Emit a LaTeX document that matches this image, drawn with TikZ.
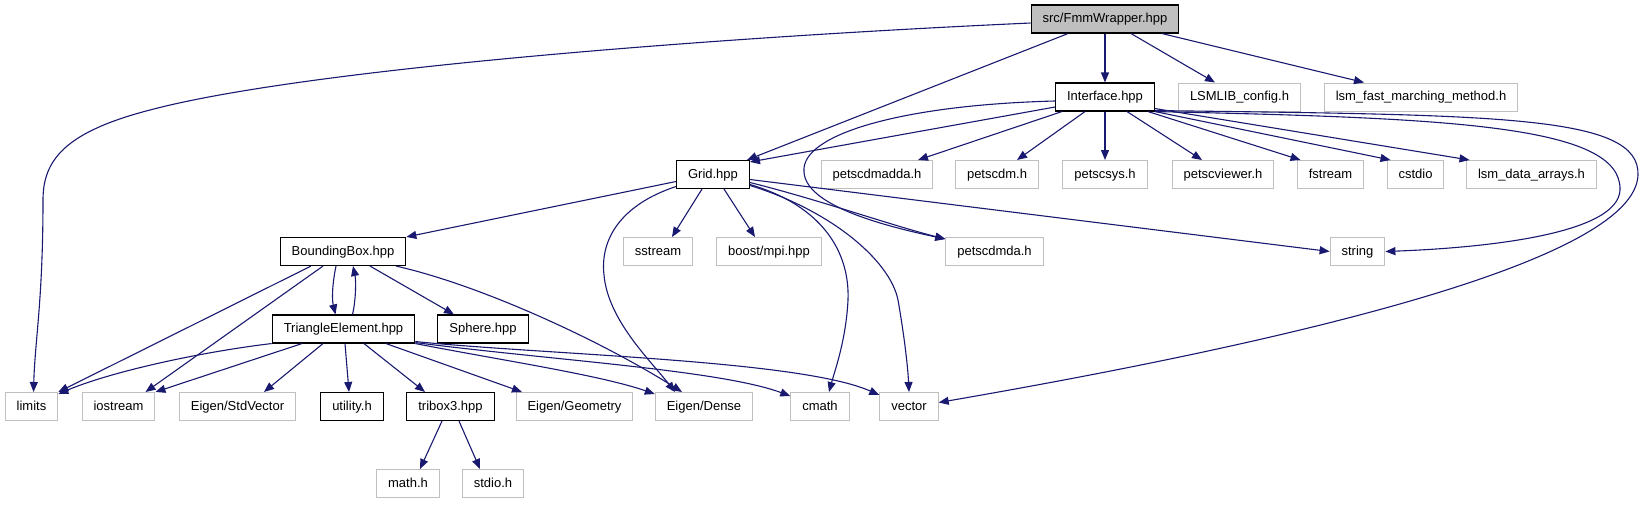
\documentclass[tikz,border=0pt]{standalone}
\usepackage{fontspec}
\setmainfont{Liberation Sans}
\usepackage{tikz}
\definecolor{dotblue}{RGB}{25,25,112}
\definecolor{grey75}{RGB}{191,191,191}
\usetikzlibrary{arrows.meta}

\begin{document}
\begin{tikzpicture}[x=1pt, y=-1pt, >={Triangle[length=10pt, width=8pt]},
    hdr/.style={draw=black, line width=1.1pt, minimum height=28pt, inner xsep=11.5pt, inner ysep=0pt,
        text height=9.5pt, text depth=2.5pt, font=\fontsize{13}{15}\selectfont},
    syshdr/.style={hdr, draw=grey75, line width=1pt},
    roothdr/.style={hdr, fill=grey75},
    dep/.style={->, dotblue, line width=1.1pt}]
    \useasboundingbox (0,0) rectangle (1644,504);
    % Hàng 1 và 2
    \node[roothdr] (fmm) at (1105,19) {src/FmmWrapper.hpp};
    \node[hdr] (iface) at (1105,97) {Interface.hpp};
    \node[syshdr] (lsmcfg) at (1239.5,97) {LSMLIB\_config.h};
    \node[syshdr] (lsmfmm) at (1421,97) {lsm\_fast\_marching\_method.h};
    % Hàng 3
    \node[hdr] (grid) at (713,174.5) {Grid.hpp};
    \node[syshdr] (pdmadda) at (877,174.5) {petscdmadda.h};
    \node[syshdr] (pdm) at (997,174.5) {petscdm.h};
    \node[syshdr] (psys) at (1105,174.5) {petscsys.h};
    \node[syshdr] (pviewer) at (1223,174.5) {petscviewer.h};
    \node[syshdr] (fstream) at (1330.5,174.5) {fstream};
    \node[syshdr] (cstdio) at (1415.5,174.5) {cstdio};
    \node[syshdr] (lsmdata) at (1531.5,174.5) {lsm\_data\_arrays.h};
    % Hàng 4
    \node[hdr] (bbox) at (343,251.5) {BoundingBox.hpp};
    \node[syshdr] (sstream) at (658,251.5) {sstream};
    \node[syshdr] (mpi) at (769,251.5) {boost/mpi.hpp};
    \node[syshdr] (pdmda) at (994.5,251.5) {petscdmda.h};
    \node[syshdr] (string) at (1357.5,251.5) {string};
    % Hàng 5
    \node[hdr] (tri) at (343.5,329) {TriangleElement.hpp};
    \node[hdr] (sphere) at (483,329) {Sphere.hpp};
    % Hàng 6
    \node[syshdr] (limits) at (31.5,406.5) {limits};
    \node[syshdr] (iostream) at (118.5,406.5) {iostream};
    \node[syshdr] (stdvec) at (237.5,406.5) {Eigen/StdVector};
    \node[hdr] (utility) at (352,406.5) {utility.h};
    \node[hdr] (tribox) at (450.5,406.5) {tribox3.hpp};
    \node[syshdr] (geometry) at (574.5,406.5) {Eigen/Geometry};
    \node[syshdr] (dense) at (704,406.5) {Eigen/Dense};
    \node[syshdr] (cmath) at (820,406.5) {cmath};
    \node[syshdr] (vector) at (909,406.5) {vector};
    % Hàng 7
    \node[syshdr] (mathh) at (408,483.5) {math.h};
    \node[syshdr] (stdioh) at (493,483.5) {stdio.h};

    % Cạnh từ FmmWrapper
    \draw[dep] ([yshift=-4pt]fmm.west) .. controls (700,38) and (300,70) .. (150,110)
        .. controls (65,132) and (43,160) .. (43,200) .. controls (43,300) and (35,340) .. ([xshift=2pt]limits.north);
    \draw[dep] ([xshift=-37pt]fmm.south) -- ([xshift=-3pt]grid.north east);
    \draw[dep] (fmm) -- (iface);
    \draw[dep] ([xshift=26pt]fmm.south) -- ([xshift=-24.5pt]lsmcfg.north);
    \draw[dep] ([xshift=57pt]fmm.south) -- ([xshift=-57pt]lsmfmm.north);
    % Cạnh từ Interface
    \draw[dep] ([yshift=-10pt]iface.west) -- ([yshift=-2pt]grid.north east);
    \draw[dep] ([yshift=-4pt]iface.west) .. controls (900,105) and (800,135) .. (804,172)
        .. controls (806,205) and (880,225) .. ([yshift=-2pt]pdmda.north west);
    \draw[dep] ([xshift=-43pt]iface.south) -- ([xshift=41pt]pdmadda.north);
    \draw[dep] ([xshift=-20pt]iface.south) -- ([xshift=20pt]pdm.north);
    \draw[dep] (iface) -- (psys);
    \draw[dep] ([xshift=22pt]iface.south) -- ([xshift=-21pt]pviewer.north);
    \draw[dep] ([xshift=43pt]iface.south) -- ([xshift=-30pt]fstream.north);
    \draw[dep] (iface.south east) -- ([xshift=-25pt]cstdio.north);
    \draw[dep] ([yshift=3pt]iface.south east) -- ([xshift=-62pt]lsmdata.north);
    \draw[dep] (iface.south east) .. controls (1450,118) and (1622,125) .. (1620,190)
        .. controls (1618,235) and (1480,248) .. (string.east);
    \draw[dep] ([yshift=1pt]iface.south east) .. controls (1500,115) and (1640,115) .. (1638,175)
        .. controls (1635,260) and (1300,340) .. ([yshift=4pt]vector.east);
    % Cạnh từ Grid
    \draw[dep] ([yshift=-7pt]grid.west) -- (bbox.north east);
    \draw[dep] ([xshift=-11pt]grid.south) -- ([xshift=14pt]sstream.north);
    \draw[dep] ([xshift=11pt]grid.south) -- ([xshift=-14pt]mpi.north);
    \draw[dep] ([yshift=-12pt]grid.west) .. controls (620,205) and (600,240) .. (604,275)
        .. controls (608,320) and (650,360) .. ([xshift=-29pt]dense.north);
    \draw[dep] ([yshift=-10pt]grid.east) .. controls (820,205) and (850,250) .. (848,300)
        .. controls (846,340) and (835,370) .. ([xshift=9pt]cmath.north);
    \draw[dep] ([yshift=-11pt]grid.east) .. controls (830,210) and (890,260) .. (898,300)
        .. controls (905,340) and (908,370) .. (vector.north);
    \draw[dep] ([yshift=-8pt]grid.east) .. controls (820,200) and (890,225) .. ([yshift=-2pt]pdmda.north west);
    \draw[dep] ([yshift=-5pt]grid.east) -- (string.west);
    % Cạnh từ BoundingBox
    \draw[dep] ([xshift=-32pt]bbox.south) -- (limits.north east);
    \draw[dep] ([xshift=-20pt]bbox.south) -- ([xshift=27pt]iostream.north);
    \draw[dep] ([xshift=-7pt]bbox.south) .. controls (332,285) and (332,300) .. ([xshift=-8pt]tri.north);
    \draw[dep] ([xshift=27pt]bbox.south) -- ([xshift=-29pt]sphere.north);
    \draw[dep] ([xshift=53pt]bbox.south) .. controls (480,285) and (600,340) .. ([xshift=-22pt]dense.north);
    % Cạnh từ TriangleElement
    \draw[dep] ([xshift=9pt]tri.north) .. controls (356,300) and (356,280) .. ([xshift=10pt]bbox.south);
    \draw[dep] (tri.south west) .. controls (200,352) and (110,372) .. ([yshift=-2pt]limits.north east);
    \draw[dep] ([xshift=-41.5pt]tri.south) -- (iostream.north east);
    \draw[dep] ([xshift=-20.5pt]tri.south) -- ([xshift=26.5pt]stdvec.north);
    \draw[dep] ([xshift=1.5pt]tri.south) -- ([xshift=-3pt]utility.north);
    \draw[dep] ([xshift=20.5pt]tri.south) -- ([xshift=-25.5pt]tribox.north);
    \draw[dep] ([xshift=42.5pt]tri.south) -- ([xshift=-52.5pt]geometry.north);
    \draw[dep] (tri.south east) .. controls (500,360) and (600,375) .. ([yshift=-2pt]dense.north west);
    \draw[dep] ([yshift=1pt]tri.south east) .. controls (550,360) and (720,370) .. ([yshift=-4pt]cmath.north west);
    \draw[dep] ([yshift=2pt]tri.south east) .. controls (550,355) and (800,360) .. ([yshift=-3pt]vector.north west);
    % Cạnh từ tribox3
    \draw[dep] ([xshift=-8.5pt]tribox.south) -- ([xshift=12pt]mathh.north);
    \draw[dep] ([xshift=8.5pt]tribox.south) -- ([xshift=-13pt]stdioh.north);
\end{tikzpicture}
\end{document}
